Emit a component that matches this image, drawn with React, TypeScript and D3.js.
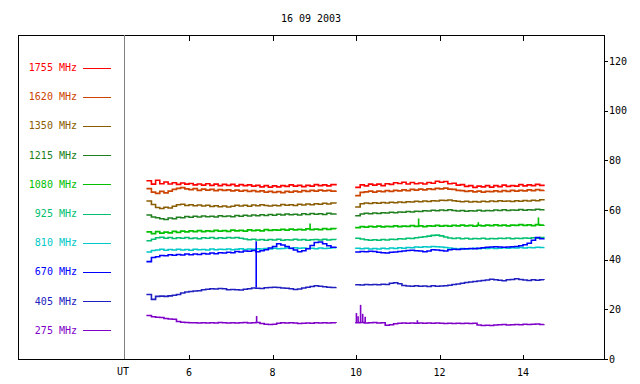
import React from "react";
import * as d3 from "d3";

const TITLE = "16 09 2003";
const X_TICKS = [6, 8, 10, 12, 14];
const Y_TICKS = [0, 20, 40, 60, 80, 100, 120];

const FREQS = ["1755", "1620", "1350", "1215", "1080", "925", "810", "670", "405", "275"];
const COLORS = ["#ff0000", "#cc4400", "#8a5c00", "#208020", "#00c000", "#00c070", "#00c8c8", "#0000ff", "#2020c0", "#8000c8"];

const T1 = [4.98, 5.1, 5.2, 5.3, 5.4, 5.5, 5.6, 5.7, 5.8, 5.9, 6.0, 6.1, 6.2, 6.3, 6.4, 6.5, 6.6, 6.7, 6.8, 6.9, 7.0, 7.1, 7.2, 7.3, 7.4, 7.5, 7.6, 7.7, 7.8, 7.9, 8.0, 8.1, 8.2, 8.3, 8.4, 8.5, 8.6, 8.7, 8.8, 8.9, 9.0, 9.1, 9.2, 9.3, 9.4, 9.52];
const T2 = [9.98, 10.1, 10.2, 10.3, 10.4, 10.5, 10.6, 10.7, 10.8, 10.9, 11.0, 11.1, 11.2, 11.3, 11.4, 11.5, 11.6, 11.7, 11.8, 11.9, 12.0, 12.1, 12.2, 12.3, 12.4, 12.5, 12.6, 12.7, 12.8, 12.9, 13.0, 13.1, 13.2, 13.3, 13.4, 13.5, 13.6, 13.7, 13.8, 13.9, 14.0, 14.1, 14.2, 14.3, 14.4, 14.5];

const S1755_A = [71.8, 70.4, 72.0, 70.6, 71.3, 70.5, 71.0, 70.3, 70.9, 70.4, 70.7, 70.1, 70.5, 70.0, 70.6, 69.9, 70.4, 69.8, 70.3, 69.9, 70.3, 69.7, 70.2, 69.8, 70.1, 69.6, 69.9, 69.3, 69.8, 69.2, 69.7, 69.3, 69.8, 69.5, 70.1, 69.6, 69.9, 69.4, 69.9, 69.6, 70.2, 69.8, 70.1, 69.7, 70.2, 69.9];
const S1755_B = [69.1, 70.1, 69.7, 70.4, 70.0, 70.4, 69.8, 70.6, 70.3, 71.0, 70.7, 71.2, 70.5, 71.1, 70.6, 70.9, 70.5, 71.1, 70.8, 71.6, 71.2, 71.5, 70.6, 70.8, 70.0, 70.2, 69.5, 69.8, 69.1, 69.6, 69.3, 69.8, 69.2, 69.8, 69.4, 70.0, 69.5, 69.8, 69.6, 70.2, 69.7, 70.1, 69.8, 70.3, 69.9, 70.3];
const S1620_A = [68.6, 67.2, 66.7, 67.5, 66.9, 67.6, 68.3, 68.7, 69.0, 68.5, 68.2, 68.6, 67.9, 68.4, 68.0, 68.3, 67.8, 68.2, 67.9, 68.1, 67.7, 68.0, 67.6, 67.9, 67.5, 67.8, 67.4, 67.7, 67.2, 67.5, 67.1, 67.4, 67.0, 67.5, 67.2, 67.6, 67.3, 67.8, 67.5, 67.9, 67.6, 68.0, 67.7, 67.9, 67.6, 67.9];
const S1620_B = [65.8, 67.1, 67.3, 67.6, 67.2, 67.6, 67.4, 67.8, 67.5, 67.9, 67.7, 68.1, 67.8, 68.3, 68.0, 68.4, 68.1, 68.5, 68.3, 68.7, 68.5, 68.8, 68.4, 68.3, 67.9, 67.8, 67.5, 67.7, 67.3, 67.6, 67.2, 67.5, 67.4, 67.7, 67.4, 67.8, 67.5, 67.9, 67.6, 67.9, 67.7, 68.1, 67.8, 68.2, 67.9, 68.1];
const S1350_A = [63.6, 62.2, 61.0, 60.6, 61.1, 60.8, 61.5, 62.1, 62.3, 61.8, 62.1, 61.7, 62.0, 61.6, 61.9, 61.4, 61.7, 61.3, 61.6, 61.2, 61.5, 61.9, 61.6, 61.9, 61.5, 62.0, 61.7, 62.1, 61.8, 61.6, 61.9, 61.7, 62.2, 61.9, 62.1, 61.8, 62.3, 62.0, 62.4, 62.1, 62.5, 62.3, 62.7, 62.4, 62.8, 62.6];
const S1350_B = [61.2, 62.5, 62.8, 62.6, 62.9, 62.7, 63.0, 62.8, 63.1, 62.9, 63.2, 63.0, 63.3, 63.2, 63.5, 63.3, 63.6, 63.4, 63.7, 63.6, 63.9, 63.8, 64.0, 63.7, 63.5, 63.3, 63.5, 63.2, 63.4, 63.2, 63.5, 63.3, 63.6, 63.4, 63.7, 63.5, 63.6, 63.4, 63.7, 63.5, 63.8, 63.6, 63.9, 63.7, 64.1, 63.8];
const S1215_A = [58.0, 57.2, 56.9, 56.5, 56.2, 56.8, 56.5, 57.1, 56.9, 57.4, 57.1, 57.5, 57.2, 57.6, 57.3, 57.5, 57.2, 57.7, 57.4, 57.6, 57.3, 57.8, 57.5, 57.9, 57.6, 58.0, 57.7, 58.1, 57.8, 58.2, 57.9, 58.3, 58.0, 58.4, 58.1, 58.3, 58.0, 58.5, 58.2, 58.6, 58.3, 58.5, 58.2, 58.7, 58.4, 58.6];
const S1215_B = [57.7, 58.4, 58.7, 58.5, 58.8, 58.6, 58.9, 58.8, 59.1, 58.9, 59.2, 59.1, 59.4, 59.2, 59.5, 59.4, 59.7, 59.6, 59.9, 59.7, 60.0, 59.8, 60.1, 59.8, 59.6, 59.8, 59.5, 59.7, 59.6, 59.9, 59.6, 59.8, 59.7, 60.0, 59.8, 60.1, 59.8, 60.0, 59.9, 60.2, 59.9, 60.1, 60.0, 60.3, 60.1, 60.3];
const S1080_A = [51.2, 50.5, 51.3, 50.7, 51.1, 50.8, 51.4, 51.0, 51.5, 51.2, 51.6, 51.3, 51.7, 51.3, 51.6, 51.4, 51.8, 51.5, 51.7, 51.4, 51.9, 51.6, 51.8, 51.5, 52.0, 51.7, 51.9, 51.6, 52.1, 51.8, 52.0, 51.9, 52.2, 51.9, 52.3, 52.0, 52.2, 52.0, 52.4, 52.1, 52.3, 52.1, 52.5, 52.2, 52.5, 52.3];
const S1080_B = [52.9, 53.3, 53.1, 53.4, 53.2, 53.5, 53.2, 53.4, 53.3, 53.6, 53.3, 53.5, 53.4, 53.7, 53.4, 53.6, 53.3, 53.6, 53.5, 53.8, 53.5, 53.7, 53.5, 53.8, 53.6, 53.9, 53.6, 53.8, 53.5, 53.8, 53.6, 53.9, 53.7, 54.0, 53.7, 53.9, 53.6, 53.9, 53.8, 54.1, 53.8, 54.0, 53.7, 54.1, 53.9, 54.0];
const S925_A = [47.6, 48.2, 48.8, 49.0, 48.6, 48.9, 48.5, 48.8, 48.6, 48.9, 48.5, 48.7, 48.4, 48.8, 48.6, 48.9, 48.5, 48.8, 48.6, 48.9, 48.7, 48.9, 48.6, 48.3, 48.0, 48.2, 47.9, 48.1, 47.8, 48.1, 47.9, 48.2, 47.8, 48.0, 47.9, 48.2, 47.9, 48.1, 47.8, 48.0, 48.1, 47.9, 48.2, 47.9, 48.1, 48.0];
const S925_B = [48.6, 48.3, 48.0, 47.8, 48.0, 47.8, 48.1, 47.9, 48.2, 48.1, 48.4, 48.3, 48.6, 48.5, 48.8, 49.0, 49.2, 49.5, 49.8, 49.9, 49.6, 49.1, 48.7, 48.5, 48.7, 48.4, 48.6, 48.3, 48.5, 48.4, 48.6, 48.3, 48.5, 48.4, 48.6, 48.5, 48.7, 48.4, 48.6, 48.5, 48.7, 48.6, 48.8, 48.6, 48.9, 48.7];
const S810_A = [43.1, 43.7, 43.9, 44.2, 43.8, 44.1, 43.9, 44.2, 43.9, 44.1, 43.8, 44.2, 44.0, 44.1, 43.9, 44.3, 44.0, 44.2, 44.1, 44.3, 44.0, 44.2, 44.4, 44.1, 44.3, 44.2, 44.4, 44.3, 44.5, 44.3, 44.6, 44.4, 44.5, 44.7, 44.5, 44.8, 44.6, 44.7, 44.5, 44.6, 44.4, 44.7, 44.5, 44.6, 44.8, 44.6];
const S810_B = [44.6, 44.4, 44.6, 44.3, 44.5, 44.3, 44.6, 44.4, 44.7, 44.5, 44.8, 44.6, 44.9, 44.8, 45.1, 45.0, 45.2, 45.1, 45.3, 45.2, 45.1, 44.9, 44.7, 44.5, 44.3, 44.5, 44.3, 44.4, 44.6, 44.4, 44.6, 44.5, 44.7, 44.5, 44.6, 44.8, 44.6, 44.8, 44.7, 44.9, 44.7, 44.9, 44.8, 45.0, 44.9, 45.0];
const S670_A = [39.2, 40.9, 41.2, 41.7, 41.6, 42.0, 41.8, 42.1, 41.9, 42.3, 42.0, 42.3, 42.1, 42.5, 42.3, 42.7, 42.4, 42.8, 42.7, 43.0, 42.8, 43.3, 43.1, 43.5, 43.4, 43.7, 43.2, 43.6, 44.0, 44.7, 45.3, 46.4, 45.9, 45.3, 44.6, 43.9, 43.2, 43.6, 44.4, 45.7, 46.9, 47.1, 46.4, 45.6, 45.0, 45.2];
const S670_B = [43.1, 43.3, 43.2, 43.4, 43.3, 43.0, 42.8, 42.7, 43.0, 43.1, 43.3, 43.5, 43.7, 43.8, 43.6, 43.5, 43.2, 43.5, 44.0, 43.9, 43.7, 43.5, 44.0, 44.2, 44.1, 44.3, 44.4, 44.5, 44.4, 44.6, 44.8, 45.0, 45.1, 45.2, 45.1, 45.0, 45.1, 45.2, 45.3, 45.6, 46.0, 46.6, 47.8, 48.9, 48.4, 48.6];
const S405_A = [26.0, 24.0, 25.2, 25.3, 25.2, 25.4, 25.7, 26.0, 26.6, 27.0, 27.2, 27.4, 27.5, 27.9, 28.1, 28.3, 28.2, 28.4, 28.3, 27.9, 28.0, 27.9, 27.8, 28.1, 28.3, 28.6, 28.5, 28.4, 28.7, 28.8, 28.9, 28.8, 28.6, 28.5, 28.3, 28.0, 28.2, 28.6, 28.9, 29.2, 29.5, 29.3, 29.1, 28.9, 28.8, 28.9];
const S405_B = [29.9, 29.8, 30.0, 29.9, 30.0, 29.9, 30.1, 30.0, 30.5, 30.7, 30.3, 29.6, 29.4, 29.3, 29.5, 29.3, 29.4, 29.2, 29.5, 29.3, 29.4, 29.5, 29.7, 30.0, 30.2, 30.5, 30.8, 31.0, 31.2, 31.4, 31.6, 31.8, 32.1, 31.9, 31.7, 31.5, 31.9, 32.0, 32.3, 32.0, 31.8, 31.6, 31.9, 31.7, 31.9, 31.8];
const S275_A = [17.5, 17.0, 16.8, 16.7, 16.3, 16.1, 16.0, 15.1, 14.8, 14.7, 14.6, 14.6, 14.5, 14.6, 14.5, 14.6, 14.5, 14.7, 14.6, 14.5, 14.6, 14.5, 14.6, 14.7, 14.5, 14.6, 14.7, 14.3, 14.0, 13.9, 14.0, 14.4, 14.6, 14.5, 14.6, 14.5, 14.3, 14.4, 14.5, 14.4, 14.6, 14.5, 14.6, 14.5, 14.6, 14.5];
const S275_B = [14.6, 14.7, 14.5, 14.6, 14.7, 14.5, 14.6, 13.6, 13.8, 14.2, 14.4, 14.5, 14.4, 14.5, 14.4, 14.5, 14.4, 14.5, 14.4, 14.5, 14.4, 14.3, 14.4, 14.3, 14.4, 14.3, 14.4, 14.3, 14.4, 13.7, 13.5, 13.6, 13.5, 13.7, 13.8, 13.9, 13.7, 13.8, 13.9, 13.8, 14.0, 13.9, 14.0, 14.1, 13.9, 14.0];

const SEG_A = [S1755_A, S1620_A, S1350_A, S1215_A, S1080_A, S925_A, S810_A, S670_A, S405_A, S275_A];
const SEG_B = [S1755_B, S1620_B, S1350_B, S1215_B, S1080_B, S925_B, S810_B, S670_B, S405_B, S275_B];

// spikes: series index, time, from value, to value
const SPIKE_SERIES = [7, 9, 4, 4, 4, 4, 9, 9, 9, 9, 9, 9];
const SPIKE_T = [7.61, 7.62, 8.9, 11.5, 12.93, 14.37, 10.01, 10.05, 10.11, 10.16, 10.22, 11.47];
const SPIKE_FROM = [47.4, 14.6, 52.3, 53.6, 53.8, 53.9, 14.6, 14.6, 14.6, 14.5, 14.5, 14.4];
const SPIKE_TO = [28.8, 17.3, 54.6, 56.6, 55.1, 57.0, 18.5, 17.2, 21.8, 18.2, 17.0, 15.6];

const W = 640;
const H = 384;
const FRAME = { left: 18, right: 604, top: 35, bottom: 359 };
const UT_X = 124;
const FONT = "'DejaVu Sans Mono', monospace";

export default function App() {
  const x = d3.scaleLinear().domain([6, 14]).range([189, 523]);
  const y = d3.scaleLinear().domain([0, 120]).range([359, 61]);
  const line = d3
    .line<[number, number]>()
    .x((d) => x(d[0]))
    .y((d) => y(d[1]))
    .curve(d3.curveStepAfter);

  const legendY = (i: number) => 67.5 + i * 29.2;

  return (
    <svg
      width={W}
      height={H}
      style={{ position: "absolute", left: 0, top: 0, background: "#fff" }}
      fontFamily={FONT}
    >
      <rect x={0} y={0} width={W} height={H} fill="#fff" />
      <text x={311} y={22} fontSize={10} textAnchor="middle" fill="#000">
        {TITLE}
      </text>
      <rect
        x={FRAME.left + 0.5}
        y={FRAME.top + 0.5}
        width={FRAME.right - FRAME.left}
        height={FRAME.bottom - FRAME.top}
        fill="none"
        stroke="#000"
        strokeWidth={1}
      />
      <line x1={UT_X + 0.5} x2={UT_X + 0.5} y1={FRAME.top} y2={FRAME.bottom} stroke="#808080" strokeWidth={1} />
      <text x={UT_X - 1} y={375} fontSize={10} textAnchor="middle" fill="#000">
        UT
      </text>
      {X_TICKS.map((t) => (
        <g key={t}>
          <line x1={Math.round(x(t)) + 0.5} x2={Math.round(x(t)) + 0.5} y1={FRAME.top} y2={FRAME.top + 6} stroke="#000" />
          <line x1={Math.round(x(t)) + 0.5} x2={Math.round(x(t)) + 0.5} y1={FRAME.bottom} y2={FRAME.bottom - 4} stroke="#000" />
          <text x={x(t)} y={376} fontSize={10} textAnchor="middle" fill="#000">
            {t}
          </text>
        </g>
      ))}
      {Y_TICKS.map((v) => (
        <g key={v}>
          <line x1={FRAME.right} x2={FRAME.right + 4} y1={Math.round(y(v)) + 0.5} y2={Math.round(y(v)) + 0.5} stroke="#000" />
          <text x={609} y={y(v) + 3.5} fontSize={10} fill="#000">
            {v}
          </text>
        </g>
      ))}
      {FREQS.map((f, i) => (
        <g key={f}>
          <text x={77} y={legendY(i) + 3.5} fontSize={10} textAnchor="end" fill={COLORS[i]}>
            {`${f} MHz`}
          </text>
          <line x1={83} x2={111} y1={Math.round(legendY(i)) + 0.5} y2={Math.round(legendY(i)) + 0.5} stroke={COLORS[i]} strokeWidth={1} />
        </g>
      ))}
      {FREQS.map((f, i) => (
        <g key={"d" + f} fill="none" stroke={COLORS[i]} strokeWidth={1.6}>
          <path d={line(T1.map((t, k) => [t, SEG_A[i][k]]) as [number, number][]) || ""} />
          <path d={line(T2.map((t, k) => [t, SEG_B[i][k]]) as [number, number][]) || ""} />
        </g>
      ))}
      {SPIKE_T.map((t, k) => (
        <line
          key={"s" + k}
          x1={x(t)}
          x2={x(t)}
          y1={y(SPIKE_FROM[k])}
          y2={y(SPIKE_TO[k])}
          stroke={COLORS[SPIKE_SERIES[k]]}
          strokeWidth={1.6}
        />
      ))}
    </svg>
  );
}
